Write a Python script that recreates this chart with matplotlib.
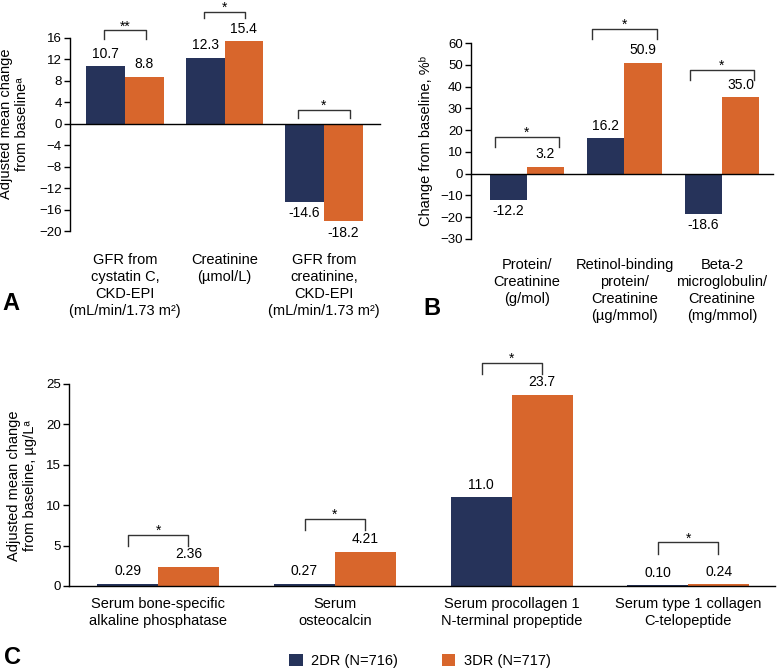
import matplotlib
matplotlib.use("Agg")
import matplotlib.pyplot as plt
from matplotlib.patches import Patch

plt.rcParams['font.family'] = ['Liberation Sans', 'DejaVu Sans']

NAVY = '#26335A'
ORANGE = '#D8662C'

# ---------------- data ----------------
series_names = ['2DR (N=716)', '3DR (N=717)']

a_categories = ['GFR from\ncystatin C,\nCKD-EPI\n(mL/min/1.73 m²)',
                'Creatinine\n(µmol/L)',
                'GFR from\ncreatinine,\nCKD-EPI\n(mL/min/1.73 m²)']
a_2dr = [10.7, 12.3, -14.6]
a_3dr = [8.8, 15.4, -18.2]
a_labels_2dr = ['10.7', '12.3', '-14.6']
a_labels_3dr = ['8.8', '15.4', '-18.2']
a_sig = ['**', '*', '*']
a_ticks = [16, 12, 8, 4, 0, -4, -8, -12, -16, -20]

b_categories = ['Protein/\nCreatinine\n(g/mol)',
                'Retinol-binding\nprotein/\nCreatinine\n(µg/mmol)',
                'Beta-2\nmicroglobulin/\nCreatinine\n(mg/mmol)']
b_2dr = [-12.2, 16.2, -18.6]
b_3dr = [3.2, 50.9, 35.0]
b_labels_2dr = ['-12.2', '16.2', '-18.6']
b_labels_3dr = ['3.2', '50.9', '35.0']
b_sig = ['*', '*', '*']
b_ticks = [60, 50, 40, 30, 20, 10, 0, -10, -20, -30]

c_categories = ['Serum bone-specific\nalkaline phosphatase',
                'Serum\nosteocalcin',
                'Serum procollagen 1\nN-terminal propeptide',
                'Serum type 1 collagen\nC-telopeptide']
c_2dr = [0.29, 0.27, 11.0, 0.10]
c_3dr = [2.36, 4.21, 23.7, 0.24]
c_labels_2dr = ['0.29', '0.27', '11.0', '0.10']
c_labels_3dr = ['2.36', '4.21', '23.7', '0.24']
c_sig = ['*', '*', '*', '*']
c_ticks = [0, 5, 10, 15, 20, 25]

# ---------------- figure ----------------
W, H = 777, 671
fig = plt.figure(figsize=(W / 100, H / 100), dpi=100)


def px_axes(left, top, right, bottom):
    return fig.add_axes([left / W, 1 - bottom / H, (right - left) / W, (bottom - top) / H])


def style_axes(ax, ylim, ticks, zero_spine=True):
    ax.set_ylim(*ylim)
    ax.set_yticks(ticks)
    ax.tick_params(axis='y', direction='out', length=4, width=1, labelsize=9.5, pad=2)
    ax.tick_params(axis='x', length=0, labelbottom=False)
    for s in ['top', 'right']:
        ax.spines[s].set_visible(False)
    if zero_spine:
        ax.spines['bottom'].set_position(('data', 0))
    ax.spines['left'].set_linewidth(1)
    ax.spines['bottom'].set_linewidth(1)
    ax.set_facecolor('none')


def draw_panel(ax, v2, v3, l2, l3, width, cats, cat_pad, cat_size):
    n = len(v2)
    x = list(range(n))
    b1 = ax.bar([i - width / 2 for i in x], v2, width, color=NAVY, clip_on=False, zorder=2)
    b2 = ax.bar([i + width / 2 for i in x], v3, width, color=ORANGE, clip_on=False, zorder=2)
    for bars, labs in ((b1, l2), (b2, l3)):
        for r, lab in zip(bars, labs):
            h = r.get_height()
            xc = r.get_x() + r.get_width() / 2
            if h >= 0:
                ax.annotate(lab, (xc, h), xytext=(0, 4), textcoords='offset points',
                            ha='center', va='bottom', fontsize=10, annotation_clip=False)
            else:
                ax.annotate(lab, (xc, h), xytext=(0, -3), textcoords='offset points',
                            ha='center', va='top', fontsize=10, annotation_clip=False)
    for i, c in enumerate(cats):
        ax.annotate(c, (i, 0), xycoords=ax.get_xaxis_transform(), xytext=(0, -cat_pad),
                    textcoords='offset points', ha='center', va='top', fontsize=cat_size,
                    linespacing=1.27, annotation_clip=False)
    return b1, b2


def bracket(ax, xc, half, y, drop, star):
    ax.plot([xc - half, xc - half, xc + half, xc + half], [y - drop, y, y, y - drop],
            color='#333333', lw=1, clip_on=False, zorder=3)
    ax.annotate(star, (xc, y), xytext=(0, 0), textcoords='offset points', ha='center',
                va='baseline', fontsize=10, annotation_clip=False)


# ---------------- Panel A ----------------
axA = px_axes(70, 38, 380, 231)
style_axes(axA, (-20, 16), a_ticks)
axA.set_xlim(-0.553, 2.563)
draw_panel(axA, a_2dr, a_3dr, a_labels_2dr, a_labels_3dr, 0.39, a_categories, 16, 10.5)
a_br_y = [17.4, 20.8, 2.6]
a_br_drop = [1.5, 1.0, 1.5]
a_br_half = [0.21, 0.21, 0.26]
for i in range(3):
    bracket(axA, i, a_br_half[i], a_br_y[i], a_br_drop[i], a_sig[i])
fig.text(14 / W, 1 - 124 / H, 'Adjusted mean change\nfrom baselineᵃ',
         rotation=90, ha='center', va='center', fontsize=10.5, linespacing=1.1)
fig.text(2 / W, 1 - 303 / H, 'A', fontsize=17, fontweight='bold', ha='left', va='center')

# ---------------- Panel B ----------------
axB = px_axes(471, 43, 773, 239)
style_axes(axB, (-30, 60), b_ticks)
axB.set_xlim(-0.574, 2.523)
draw_panel(axB, b_2dr, b_3dr, b_labels_2dr, b_labels_3dr, 0.38, b_categories, 14, 10.5)
b_br_y = [17.0, 66.5, 47.7]
for i in range(3):
    bracket(axB, i, 0.33, b_br_y[i], 4.6, b_sig[i])
fig.text(426 / W, 1 - 141 / H, 'Change from baseline, %ᵇ',
         rotation=90, ha='center', va='center', fontsize=10.5)
fig.text(423 / W, 1 - 309 / H, 'B', fontsize=17, fontweight='bold', ha='left', va='center')

# ---------------- Panel C ----------------
axC = px_axes(69, 384, 775, 586)
style_axes(axC, (0, 25), c_ticks, zero_spine=False)
axC.set_xlim(-0.504, 3.49)
draw_panel(axC, c_2dr, c_3dr, c_labels_2dr, c_labels_3dr, 0.345, c_categories, 8, 10.5)
c_br_y = [6.35, 8.3, 27.6, 5.4]
for i in range(4):
    bracket(axC, i, 0.17, c_br_y[i], 1.4, c_sig[i])
fig.text(22 / W, 1 - 486 / H, 'Adjusted mean change\nfrom baseline, µg/Lᵃ',
         rotation=90, ha='center', va='center', fontsize=10.5, linespacing=1.1)
fig.text(4 / W, 1 - 657 / H, 'C', fontsize=17, fontweight='bold', ha='left', va='center')

handles = [Patch(facecolor=NAVY, label=series_names[0]), Patch(facecolor=ORANGE, label=series_names[1])]
fig.legend(handles=handles, loc='center', bbox_to_anchor=(420 / W, 1 - 661 / H), ncol=2,
           frameon=False, fontsize=10.5, handlelength=0.9, handleheight=0.9,
           handletextpad=0.6, columnspacing=3.0, borderaxespad=0)

fig.savefig('out.png', dpi=100)
